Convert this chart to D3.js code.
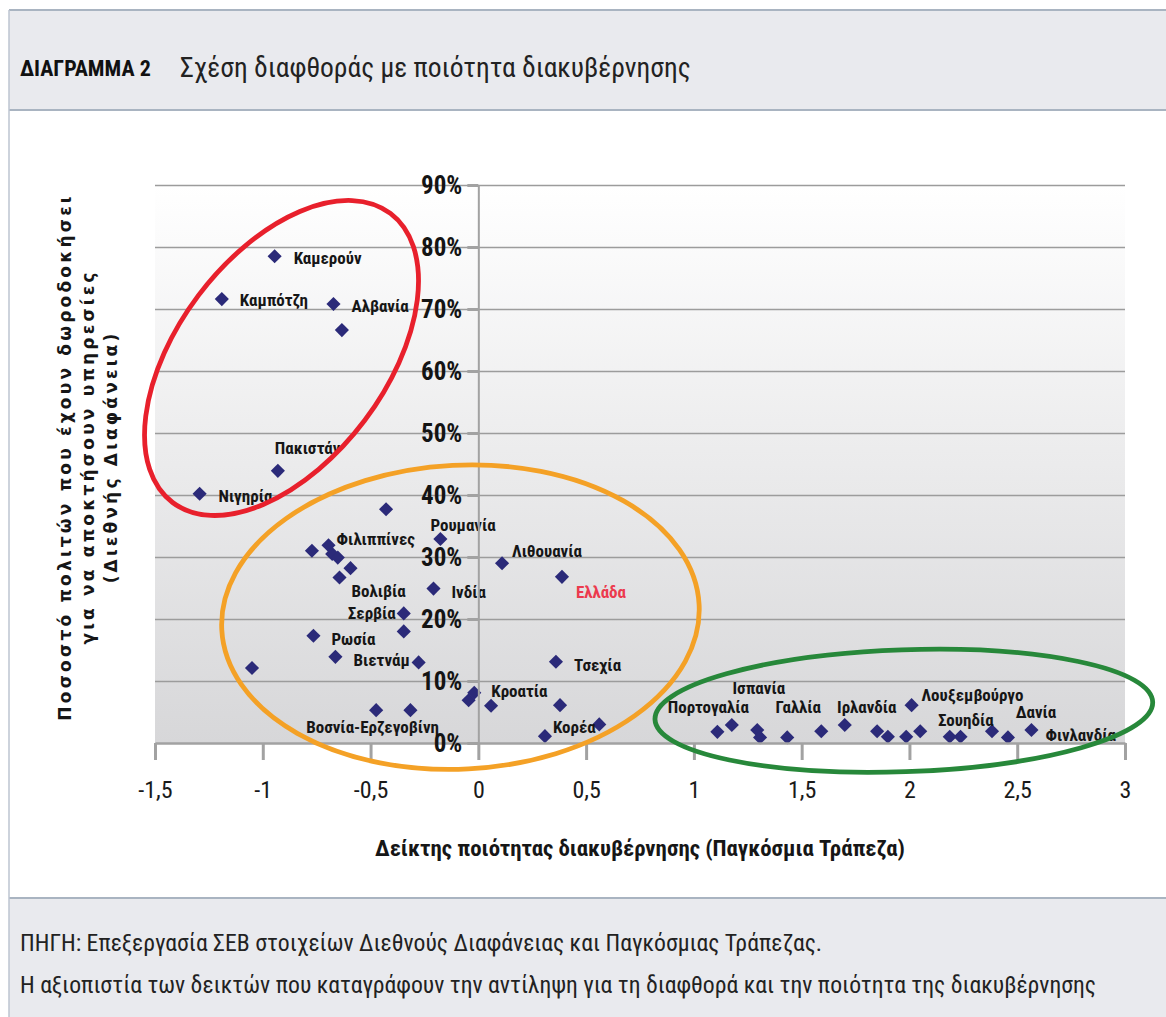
<!DOCTYPE html>
<html>
<head>
<meta charset="utf-8">
<script src="https://cdn.jsdelivr.net/npm/d3@7"></script>
<style>
body { margin: 0; background: #fff; }
.cond { font-family: "Liberation Sans Narrow", "Roboto Condensed", "DejaVu Sans Condensed", "Liberation Sans", sans-serif; font-stretch: condensed; }
</style>
</head>
<body>
<div id="chart"></div>
<script>
/* global d3 */
(function() {
    'use strict';

    // --- data ---
    var countries = [
        'Καμερούν', 'Καμπότζη', 'Αλβανία', '', 'Πακιστάν', 'Νιγηρία',
        '', '', 'Φιλιππίνες', '', '', '', 'Βολιβία', 'Ρουμανία', 'Ινδία', 'Σερβία', '',
        'Ρωσία', 'Βιετνάμ', '', '', 'Βοσνία-Ερζεγοβίνη', '', '', 'Κροατία', '',
        'Λιθουανία', 'Ελλάδα', 'Τσεχία', '', 'Κορέα', '',
        'Πορτογαλία', 'Ισπανία', '', '', 'Γαλλία', '', 'Ιρλανδία', '', '', '',
        'Λουξεμβούργο', '', 'Σουηδία', '', '', 'Δανία', 'Φινλανδία'
    ];
    var governance = [
        -0.945, -1.19, -0.672, -0.633, -0.93, -1.293,
        -0.428, -0.772, -0.695, -0.678, -0.652, -0.593, -0.644, -0.176, -0.208, -0.346, -0.346,
        -0.765, -0.663, -0.277, -1.05, -0.474, -0.315, -0.045, -0.019, 0.059,
        0.11, 0.388, 0.36, 0.379, 0.309, 0.561,
        1.109, 1.176, 1.294, 1.307, 1.433, 1.591, 1.70, 1.85, 1.90, 1.985,
        2.01, 2.05, 2.187, 2.237, 2.383, 2.457, 2.566
    ];
    var bribery = [
        0.785, 0.716, 0.708, 0.666, 0.439, 0.402,
        0.377, 0.310, 0.319, 0.305, 0.299, 0.282, 0.267, 0.329, 0.249, 0.209, 0.180,
        0.173, 0.139, 0.130, 0.121, 0.053, 0.053, 0.069, 0.081, 0.060,
        0.290, 0.268, 0.131, 0.061, 0.011, 0.030,
        0.018, 0.029, 0.021, 0.009, 0.009, 0.019, 0.029, 0.019, 0.010, 0.010,
        0.061, 0.019, 0.010, 0.010, 0.019, 0.009, 0.021
    ];
    var highlight = 'Ελλάδα';

    var xTicks = [-1.5, -1, -0.5, 0, 0.5, 1, 1.5, 2, 2.5, 3];
    var yTicks = [0, 0.1, 0.2, 0.3, 0.4, 0.5, 0.6, 0.7, 0.8, 0.9];

    var ellipseColors = ['#e8202c', '#f4a126', '#27883a'];
    var ellipseCenterX = [-0.913, -0.083, 1.974];
    var ellipseCenterY = [0.621, 0.203, 0.052];

    var titleBold = 'ΔΙΑΓΡΑΜΜΑ 2';
    var titleText = 'Σχέση διαφθοράς με ποιότητα διακυβέρνησης';
    var yTitle = ['Ποσοστό πολιτών που έχουν δωροδοκήσει', 'για να αποκτήσουν υπηρεσίες', '(Διεθνής Διαφάνεια)'];
    var xTitle = 'Δείκτης ποιότητας διακυβέρνησης (Παγκόσμια Τράπεζα)';
    var notes = [
        'ΠΗΓΗ: Επεξεργασία ΣΕΒ στοιχείων Διεθνούς Διαφάνειας και Παγκόσμιας Τράπεζας.',
        'Η αξιοπιστία των δεικτών που καταγράφουν την αντίληψη για τη διαφθορά και την ποιότητα της διακυβέρνησης'
    ];

    // --- layout ---
    var W = 1166, H = 1017;
    var plot = { left: 155, right: 1125, top: 185, bottom: 743 };

    // label placement: [dx, dy, anchor]
    var labelPlace = {
        'Καμερούν': [19, 2, 'start'], 'Καμπότζη': [18, 1, 'start'], 'Αλβανία': [18, 2, 'start'],
        'Πακιστάν': [-3, -23, 'start'], 'Νιγηρία': [19, 2, 'start'],
        'Φιλιππίνες': [8, -6, 'start'], 'Βολιβία': [12, 14, 'start'], 'Ρουμανία': [-10, -14, 'start'],
        'Ινδία': [18, 3, 'start'], 'Σερβία': [-8, 0, 'end'], 'Ρωσία': [18, 3, 'start'],
        'Βιετνάμ': [18, 3, 'start'], 'Βοσνία-Ερζεγοβίνη': [-70, 17, 'start'], 'Κροατία': [17, -2, 'start'],
        'Λιθουανία': [10, -12, 'start'], 'Ελλάδα': [14, 15, 'start'], 'Τσεχία': [18, 3, 'start'],
        'Κορέα': [8, -9, 'start'],
        'Πορτογαλία': [-9, -25, 'middle'], 'Ισπανία': [27, -37, 'middle'], 'Γαλλία': [11, -30, 'middle'],
        'Ιρλανδία': [22, -18, 'middle'], 'Λουξεμβούργο': [10, -10, 'start'], 'Σουηδία': [16, -17, 'middle'],
        'Δανία': [28, -25, 'middle'], 'Φινλανδία': [14, 5, 'start']
    };
    var ellipseShape = [ // [rx, ry, rotation] in pixels / degrees
        [181, 104, -53], [239, 152, -3], [249, 61, -2]
    ];

    var svg = d3.select('#chart').append('svg')
        .attr('width', W)
        .attr('height', H)
        .style('display', 'block');

    // frame: header, body, footer
    svg.append('rect').attr('x', 0).attr('y', 0).attr('width', W).attr('height', H).attr('fill', '#fff');
    svg.append('rect').attr('x', 9).attr('y', 10).attr('width', W).attr('height', 100).attr('fill', '#e9eaee');
    svg.append('rect').attr('x', 9).attr('y', 898).attr('width', W).attr('height', H - 898).attr('fill', '#e9eaee');
    [10, 110, 898].forEach(function(y) {
        svg.append('line').attr('x1', 9).attr('x2', W).attr('y1', y).attr('y2', y)
            .attr('stroke', '#a9b4c1').attr('stroke-width', 2);
    });
    svg.append('line').attr('x1', 9).attr('x2', 9).attr('y1', 10).attr('y2', H)
        .attr('stroke', '#bcc5d0').attr('stroke-width', 1.5);

    svg.append('text').attr('class', 'cond')
        .attr('x', 20).attr('y', 76)
        .attr('font-size', 22).attr('font-weight', 'bold').attr('fill', '#111')
        .text(titleBold);
    svg.append('text').attr('class', 'cond')
        .attr('x', 180).attr('y', 77)
        .attr('font-size', 27.5).attr('fill', '#222')
        .text(titleText);

    notes.forEach(function(t, i) {
        svg.append('text').attr('class', 'cond')
            .attr('x', 20).attr('y', 951 + i * 42)
            .attr('font-size', 23.7).attr('fill', '#222')
            .text(t);
    });

    var x = d3.scaleLinear().domain([-1.5, 3]).range([plot.left, plot.right]);
    var y = d3.scaleLinear().domain([0, 0.9]).range([plot.bottom, plot.top]);

    var defs = svg.append('defs');
    var grad = defs.append('linearGradient').attr('id', 'bg').attr('x1', 0).attr('x2', 0).attr('y1', 0).attr('y2', 1);
    grad.append('stop').attr('offset', '0%').attr('stop-color', '#ffffff');
    grad.append('stop').attr('offset', '100%').attr('stop-color', '#d7d7d9');

    svg.append('rect')
        .attr('x', plot.left).attr('y', plot.top)
        .attr('width', plot.right - plot.left).attr('height', plot.bottom - plot.top)
        .attr('fill', 'url(#bg)');

    // horizontal gridlines
    svg.append('g')
        .attr('transform', 'translate(' + plot.left + ',0)')
        .call(d3.axisLeft(y).tickValues(yTicks.slice(1)).tickSize(-(plot.right - plot.left)).tickFormat(''))
        .call(function(g) { g.select('.domain').remove(); })
        .call(function(g) { g.selectAll('line').attr('stroke', '#9c9c9c').attr('stroke-width', 1.6); });

    // points
    var pts = countries.map(function(n, i) { return { name: n, gx: governance[i], by: bribery[i] }; });

    svg.append('g').selectAll('path')
        .data(pts)
        .enter().append('path')
        .attr('d', d3.symbol().type(d3.symbolSquare).size(100))
        .attr('transform', function(d) { return 'translate(' + x(d.gx) + ',' + y(d.by) + ') rotate(45)'; })
        .attr('fill', '#2b2a79');

    svg.append('g').selectAll('text')
        .data(pts.filter(function(d) { return d.name; }))
        .enter().append('text')
        .attr('class', 'cond')
        .attr('x', function(d) { return x(d.gx) + labelPlace[d.name][0]; })
        .attr('y', function(d) { return y(d.by) + labelPlace[d.name][1]; })
        .attr('dy', '0.35em')
        .attr('text-anchor', function(d) { return labelPlace[d.name][2]; })
        .attr('font-size', 17).attr('font-weight', 'bold')
        .attr('fill', function(d) { return d.name === highlight ? '#ec3a4e' : '#161616'; })
        .text(function(d) { return d.name; });

    // x axis
    var xAxis = svg.append('g')
        .attr('transform', 'translate(0,' + y(0) + ')')
        .call(d3.axisBottom(x).tickValues(xTicks).tickSize(17).tickSizeOuter(0).tickPadding(21)
            .tickFormat(function(d) { return String(d).replace('.', ','); }));
    xAxis.select('.domain').attr('stroke', '#a2a2a2').attr('stroke-width', 2.5);
    xAxis.selectAll('.tick line').attr('stroke', '#a2a2a2').attr('stroke-width', 3);
    xAxis.selectAll('.tick text').attr('class', 'cond').attr('font-size', 24).attr('fill', '#1a1a1a');

    // y axis at x = 0
    var yAxis = svg.append('g')
        .attr('transform', 'translate(' + x(0) + ',0)')
        .call(d3.axisLeft(y).tickValues(yTicks).tickSize(11).tickSizeOuter(0).tickPadding(5)
            .tickFormat(d3.format('.0%')));
    yAxis.select('.domain').attr('stroke', '#a2a2a2').attr('stroke-width', 2);
    yAxis.selectAll('.tick line').attr('stroke', '#a2a2a2').attr('stroke-width', 3);
    yAxis.selectAll('.tick text').attr('class', 'cond').attr('font-size', 25).attr('font-weight', 'bold').attr('fill', '#141414');

    // axis titles
    svg.append('text')
        .attr('class', 'cond')
        .attr('x', 640).attr('y', 856)
        .attr('text-anchor', 'middle')
        .attr('font-size', 22.8).attr('font-weight', 'bold')
        .attr('fill', '#161616')
        .text(xTitle);

    var yt = svg.append('text')
        .attr('transform', 'translate(71,457) rotate(-90)')
        .attr('text-anchor', 'middle')
        .attr('font-family', 'DejaVu Sans, sans-serif').attr('font-size', 17).attr('font-weight', 'bold')
        .attr('letter-spacing', 3.2)
        .attr('fill', '#161616');
    yTitle.forEach(function(t, i) {
        yt.append('tspan').attr('x', 0).attr('y', i * 23).text(t);
    });

    // cluster ellipses
    svg.append('g').selectAll('ellipse')
        .data(ellipseColors)
        .enter().append('ellipse')
        .attr('transform', function(c, i) {
            return 'translate(' + x(ellipseCenterX[i]) + ',' + y(ellipseCenterY[i]) + ') rotate(' + ellipseShape[i][2] + ')';
        })
        .attr('rx', function(c, i) { return ellipseShape[i][0]; })
        .attr('ry', function(c, i) { return ellipseShape[i][1]; })
        .attr('fill', 'none')
        .attr('stroke', function(c) { return c; })
        .attr('stroke-width', 4.8);
})();
</script>
</body>
</html>
